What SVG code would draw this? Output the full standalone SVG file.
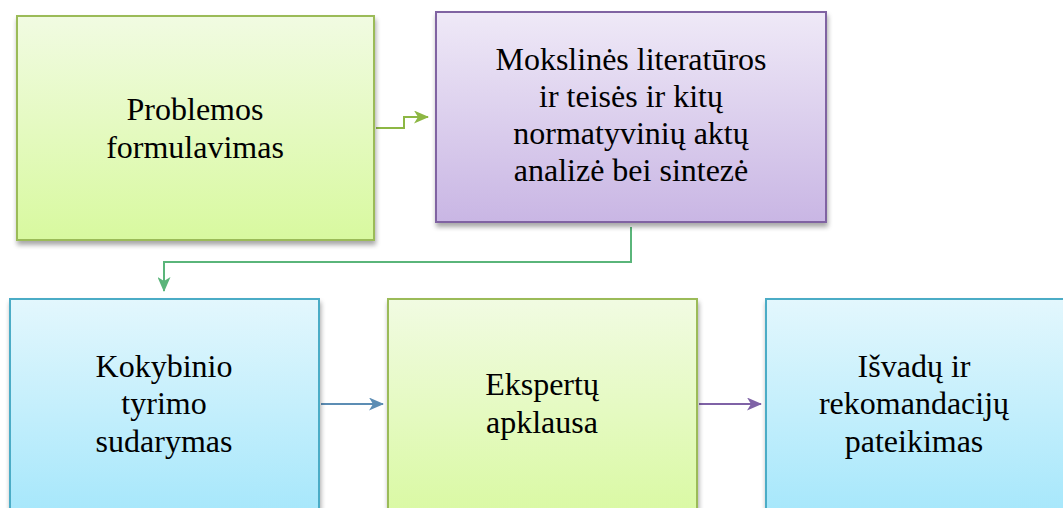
<svg xmlns="http://www.w3.org/2000/svg" width="1063" height="508" viewBox="0 0 1063 508" font-family="Times New Roman">
<defs>
<linearGradient id="gGreen" x1="0" y1="0" x2="0" y2="1"><stop offset="0" stop-color="#f1fbe2"/><stop offset="1" stop-color="#d8f99f"/></linearGradient>
<linearGradient id="gPurple" x1="0" y1="0" x2="0" y2="1"><stop offset="0" stop-color="#efe9f7"/><stop offset="1" stop-color="#c9b6e4"/></linearGradient>
<linearGradient id="gBlue" x1="0" y1="0" x2="0" y2="1"><stop offset="0" stop-color="#e3f7fd"/><stop offset="1" stop-color="#a2e6fb"/></linearGradient>
<filter id="sh" x="-5%" y="-5%" width="115%" height="120%"><feGaussianBlur in="SourceAlpha" stdDeviation="2.5"/><feOffset dx="1" dy="4" result="b"/><feComponentTransfer><feFuncA type="linear" slope="0.35"/></feComponentTransfer><feMerge><feMergeNode/><feMergeNode in="SourceGraphic"/></feMerge></filter>
<marker id="aGreen" viewBox="0 0 15 13" refX="14" refY="6.5" markerWidth="15" markerHeight="13" orient="auto" markerUnits="userSpaceOnUse"><path d="M0,0 L15,6.5 L0,13 L4,6.5 z" fill="#8db744"/></marker>
<marker id="aGreen2" viewBox="0 0 15 13" refX="14" refY="6.5" markerWidth="15" markerHeight="13" orient="auto" markerUnits="userSpaceOnUse"><path d="M0,0 L15,6.5 L0,13 L4,6.5 z" fill="#5ab57a"/></marker>
<marker id="aBlue" viewBox="0 0 15 13" refX="14" refY="6.5" markerWidth="15" markerHeight="13" orient="auto" markerUnits="userSpaceOnUse"><path d="M0,0 L15,6.5 L0,13 L4,6.5 z" fill="#5c8db4"/></marker>
<marker id="aPurple" viewBox="0 0 15 13" refX="14" refY="6.5" markerWidth="15" markerHeight="13" orient="auto" markerUnits="userSpaceOnUse"><path d="M0,0 L15,6.5 L0,13 L4,6.5 z" fill="#7f62a6"/></marker>
</defs>
<rect width="1063" height="508" fill="#fff"/>
<g id="connectors" fill="none" stroke-width="2">
<path d="M376,128 H404 V117 H428" stroke="#8db744" marker-end="url(#aGreen)"/>
<path d="M631,227 V262 H164 V291" stroke="#5ab57a" marker-end="url(#aGreen2)"/>
<path d="M321,404 H383" stroke="#5c8db4" marker-end="url(#aBlue)"/>
<path d="M699,404 H761" stroke="#7f62a6" marker-end="url(#aPurple)"/>
</g>
<g id="n1">
<rect x="17" y="16" width="357" height="224" fill="url(#gGreen)" stroke="#9bbb59" stroke-width="2" filter="url(#sh)"/>
<text x="195" y="120" font-family="Times New Roman" font-size="32" text-anchor="middle">Problemos</text>
<text x="195" y="158" font-family="Times New Roman" font-size="32" text-anchor="middle">formulavimas</text>
</g>
<g id="n2">
<rect x="436" y="12" width="390" height="210" fill="url(#gPurple)" stroke="#8064a2" stroke-width="2" filter="url(#sh)"/>
<text x="631" y="70" font-family="Times New Roman" font-size="32" text-anchor="middle">Mokslinės literatūros</text>
<text x="631" y="107" font-family="Times New Roman" font-size="32" text-anchor="middle">ir teisės ir kitų</text>
<text x="631" y="144" font-family="Times New Roman" font-size="32" text-anchor="middle">normatyvinių aktų</text>
<text x="631" y="181" font-family="Times New Roman" font-size="32" text-anchor="middle">analizė bei sintezė</text>
</g>
<g id="n3">
<rect x="10" y="299" width="309" height="230" fill="url(#gBlue)" stroke="#4bacc6" stroke-width="2" filter="url(#sh)"/>
<text x="164" y="377" font-family="Times New Roman" font-size="32" text-anchor="middle">Kokybinio</text>
<text x="164" y="414" font-family="Times New Roman" font-size="32" text-anchor="middle">tyrimo</text>
<text x="164" y="452" font-family="Times New Roman" font-size="32" text-anchor="middle">sudarymas</text>
</g>
<g id="n4">
<rect x="388" y="299" width="309" height="230" fill="url(#gGreen)" stroke="#9bbb59" stroke-width="2" filter="url(#sh)"/>
<text x="542" y="395" font-family="Times New Roman" font-size="32" text-anchor="middle">Ekspertų</text>
<text x="542" y="433" font-family="Times New Roman" font-size="32" text-anchor="middle">apklausa</text>
</g>
<g id="n5">
<rect x="766" y="299" width="320" height="230" fill="url(#gBlue)" stroke="#4bacc6" stroke-width="2" filter="url(#sh)"/>
<text x="914" y="377" font-family="Times New Roman" font-size="32" text-anchor="middle">Išvadų ir</text>
<text x="914" y="414" font-family="Times New Roman" font-size="32" text-anchor="middle">rekomandacijų</text>
<text x="914" y="452" font-family="Times New Roman" font-size="32" text-anchor="middle">pateikimas</text>
</g>
</svg>
